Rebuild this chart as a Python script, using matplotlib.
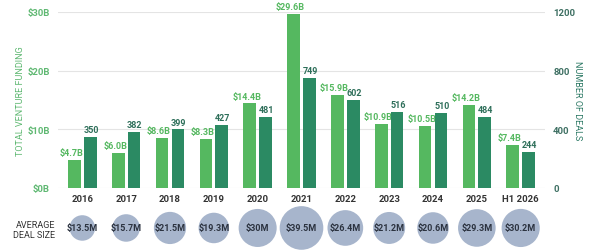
import matplotlib.pyplot as plt
import numpy as np

plt.rcParams['font.family'] = ['Roboto', 'DejaVu Sans']

years = ['2016', '2017', '2018', '2019', '2020', '2021', '2022', '2023', '2024', '2025', 'H1 2026']
funding = [4.7, 6.0, 8.6, 8.3, 14.4, 29.6, 15.9, 10.9, 10.5, 14.2, 7.4]
deals = [350, 382, 399, 427, 481, 749, 602, 516, 510, 484, 244]
avg_size = [13.5, 15.7, 21.5, 19.3, 30, 39.5, 26.4, 21.2, 20.6, 29.3, 30.2]

light = '#55b860'
dark = '#2b8a63'
bubble = '#a7b5cc'

fig = plt.figure(figsize=(6, 2.53), dpi=100)
ax = fig.add_axes([0.097, 0.253, 0.811, 0.696])
ax2 = ax.twinx()

x = np.arange(len(years))
w = 0.29
gap = 0.035
ax.bar(x - w / 2 - gap, funding, w, color=light, zorder=3)
ax2.bar(x + w / 2 + gap, deals, w, color=dark, zorder=3)

for xi, f, d in zip(x, funding, deals):
    ax.text(xi - w / 2 - gap - 0.07, f + 0.5, f'${f:.1f}B', ha='center', va='bottom',
            fontsize=6.5, fontweight='bold', color=light)
    ax2.text(xi + w / 2 + gap + 0.02, d + 20, str(d), ha='center', va='bottom',
             fontsize=6.5, fontweight='bold', color='#2e6f5a')

ax.set_ylim(0, 30)
ax2.set_ylim(0, 1200)
ax.set_yticks([0, 10, 20, 30])
ax.set_yticklabels(['$0B', '$10B', '$20B', '$30B'])
ax2.set_yticks([0, 400, 800, 1200])
ax.set_xlim(-0.55, len(years) - 0.45)
ax.set_xticks(x)
ax.set_xticklabels(years)

ax.grid(axis='y', color='#e4e4e4', linewidth=0.8, zorder=0)
ax.set_axisbelow(True)
for a in (ax, ax2):
    for s in a.spines.values():
        s.set_visible(False)
    a.tick_params(length=0)
ax.tick_params(axis='y', labelsize=6.8, labelcolor='#5fb872', pad=6)
ax.tick_params(axis='x', labelsize=6.8, labelcolor='#333333', pad=4)
ax2.tick_params(axis='y', labelsize=6.8, labelcolor='#3d6f62', pad=6)
for lbl in ax.get_yticklabels() + ax2.get_yticklabels() + ax.get_xticklabels():
    lbl.set_fontweight('bold')

ax.set_ylabel('TOTAL VENTURE FUNDING', fontsize=6.5, color='#5fb872', labelpad=2)
ax2.set_ylabel('NUMBER OF DEALS', fontsize=6.5, color='#2e7a66', rotation=-90, labelpad=5)

# bubble row
bx = fig.add_axes([0.097, 0.0, 0.811, 0.19])
bx.set_xlim(ax.get_xlim())
bx.set_ylim(-1, 1)
bx.scatter(x, np.zeros(len(x)), s=np.array(avg_size) * 25, color=bubble, linewidths=0)
for xi, v in zip(x, avg_size):
    lab = f'${v:g}M'
    bx.text(xi, 0, lab, ha='center', va='center', fontsize=6.5, fontweight='bold', color='#2c3340')
bx.axis('off')
fig.text(0.092, 0.09, 'AVERAGE\nDEAL SIZE', ha='right', va='center', fontsize=6.5,
         color='#333333', linespacing=1.1)

fig.savefig('out.png', dpi=100)
